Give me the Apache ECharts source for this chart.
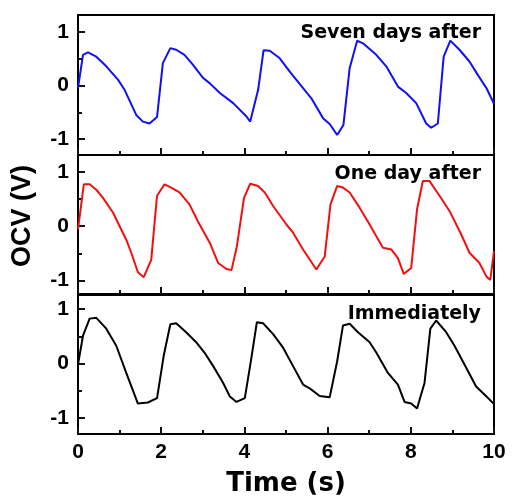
<!DOCTYPE html>
<html>
<head>
<meta charset="utf-8">
<script src="https://cdn.jsdelivr.net/npm/echarts@6/dist/echarts.min.js"></script>
<style>html,body{margin:0;padding:0;background:#fff}#c{width:512px;height:499px}</style>
</head>
<body>
<div id="c"></div>
<script>
// Time (s) and OCV (V) values
const sevenDaysT = [0,0.12,0.24,0.44,0.68,0.96,1.12,1.40,1.56,1.72,1.90,2.04,2.22,2.36,2.56,2.76,3.01,3.17,3.41,3.73,4.05,4.14,4.33,4.46,4.61,4.85,5.09,5.41,5.61,5.89,6.05,6.23,6.38,6.53,6.71,6.85,7.17,7.41,7.69,7.89,8.13,8.37,8.49,8.65,8.79,8.95,9.17,9.41,9.61,9.82,10.0];
const sevenDaysV = [-0.05,0.575,0.62,0.54,0.36,0.11,-0.08,-0.55,-0.675,-0.71,-0.59,0.42,0.70,0.67,0.575,0.39,0.14,0.04,-0.14,-0.33,-0.58,-0.675,-0.08,0.66,0.65,0.51,0.26,-0.05,-0.24,-0.61,-0.72,-0.925,-0.74,0.325,0.84,0.79,0.575,0.36,-0.02,-0.14,-0.33,-0.71,-0.79,-0.71,0.54,0.84,0.67,0.45,0.2,-0.05,-0.34];

const oneDayT = [0,0.14,0.28,0.44,0.60,0.84,1.16,1.28,1.44,1.58,1.76,1.90,2.08,2.24,2.44,2.68,2.88,3.17,3.37,3.57,3.69,3.82,3.99,4.14,4.33,4.49,4.69,5.01,5.17,5.41,5.73,5.93,6.07,6.23,6.37,6.53,6.77,7.01,7.33,7.53,7.69,7.83,8.01,8.15,8.29,8.45,8.69,8.93,9.21,9.41,9.65,9.82,9.91,10.0];
const oneDayV = [-0.06,0.77,0.77,0.67,0.52,0.25,-0.25,-0.49,-0.85,-0.94,-0.62,0.56,0.77,0.71,0.62,0.40,0.09,-0.31,-0.68,-0.79,-0.81,-0.37,0.52,0.78,0.74,0.62,0.37,0.03,-0.12,-0.43,-0.80,-0.56,0.40,0.74,0.71,0.62,0.34,0.03,-0.40,-0.43,-0.59,-0.88,-0.77,0.31,0.83,0.83,0.56,0.28,-0.15,-0.49,-0.68,-0.93,-0.99,-0.46];

const immediatelyT = [0,0.12,0.28,0.44,0.68,0.92,1.16,1.44,1.68,1.90,2.06,2.22,2.36,2.60,2.84,3.04,3.25,3.49,3.65,3.81,4.01,4.17,4.30,4.45,4.69,4.93,5.17,5.41,5.57,5.81,6.05,6.23,6.37,6.53,6.73,7.01,7.17,7.45,7.69,7.85,8.01,8.15,8.33,8.47,8.61,8.85,9.05,9.29,9.57,9.82,10.0];
const immediatelyV = [-0.02,0.51,0.825,0.84,0.64,0.325,-0.175,-0.74,-0.72,-0.64,0.14,0.72,0.74,0.575,0.39,0.20,-0.05,-0.36,-0.61,-0.71,-0.64,0.11,0.76,0.74,0.54,0.29,-0.05,-0.39,-0.46,-0.60,-0.625,0.04,0.70,0.73,0.575,0.39,0.20,-0.175,-0.39,-0.71,-0.74,-0.83,-0.36,0.64,0.79,0.575,0.325,-0.02,-0.425,-0.61,-0.75];

const panelNames = ['Seven days after','One day after','Immediately'];
const panelColors = ['#1010f0','#f01010','#000000'];
const yMajorTicks = [-1,0,1];
const yMinorTicks = [-0.5,0.5];

const seriesT = [sevenDaysT, oneDayT, immediatelyT];
const seriesV = [sevenDaysV, oneDayV, immediatelyV];

const gridTops = [15,155,295];
const gridHeights = [140,139,139];
const yRanges = [[-1.3,1.32],[-1.25,1.31],[-1.3,1.26]];
const labelY = [31,172,312];

const tickColor = '#111111';
const grids=[], xAxes=[], yAxes=[], series=[], graphics=[];
for (let i=0;i<3;i++){
  grids.push({left:78, right:18, top:gridTops[i], height:gridHeights[i], show:true, borderColor:'#000', borderWidth:2});
  xAxes.push({
    type:'value', gridIndex:i, min:0, max:10, interval:2,
    axisLine:{show:true, onZero:false, lineStyle:{color:'#000', width:2}},
    axisTick:{show:true, inside:true, length:7, lineStyle:{color:tickColor, width:2}},
    minorTick:{show:true, splitNumber:2, length:4, lineStyle:{color:tickColor, width:2}},
    splitLine:{show:false},
    axisLabel:{show:i===2, margin:8, fontFamily:'Liberation Sans, Arial, sans-serif', fontWeight:'bold', fontSize:21, color:'#000'},
    name: i===2 ? 'Time (s)' : '', nameLocation:'middle', nameGap:37,
    nameTextStyle:{fontFamily:'DejaVu Sans, sans-serif', fontWeight:'bold', fontSize:26, color:'#000'}
  });
  yAxes.push({
    type:'value', gridIndex:i, min:yRanges[i][0], max:yRanges[i][1],
    axisLine:{show:true, onZero:false, lineStyle:{color:'#000', width:2}},
    axisTick:{show:true, inside:true, length:7, customValues:yMajorTicks, lineStyle:{color:tickColor, width:2}},
    splitLine:{show:false},
    axisLabel:{show:true, margin:9, customValues:yMajorTicks, fontFamily:'Liberation Sans, Arial, sans-serif', fontWeight:'bold', fontSize:21, color:'#000'}
  });
  yAxes.push({
    type:'value', gridIndex:i, min:yRanges[i][0], max:yRanges[i][1], position:'left',
    axisLine:{show:false, onZero:false},
    axisTick:{show:true, inside:true, length:4, customValues:yMinorTicks, lineStyle:{color:tickColor, width:2}},
    splitLine:{show:false},
    axisLabel:{show:false}
  });
  series.push({
    type:'line', xAxisIndex:i, yAxisIndex:2*i, showSymbol:false, symbol:'none',
    lineStyle:{color:panelColors[i], width:2}, itemStyle:{color:panelColors[i]},
    data: seriesT[i].map((t,k)=>[t, seriesV[i][k]])
  });
}
const titles = panelNames.map((n,i)=>({
  text:n, right:26, top:labelY[i]-12,
  textStyle:{fontFamily:'DejaVu Sans, sans-serif', fontWeight:'bold', fontSize:19, color:'#000'}
}));
graphics.push({
  type:'text', rotation:Math.PI/2, z:10, x:23, y:216,
  style:{text:'OCV (V)', fill:'#000', font:'bold 27px "Liberation Sans", Arial, sans-serif', textAlign:'center', textVerticalAlign:'middle'}
});

const chart = echarts.init(document.getElementById('c'));
chart.setOption({
  animation:false,
  title:titles,
  grid:grids, xAxis:xAxes, yAxis:yAxes, series:series, graphic:graphics
});
</script>
</body>
</html>
